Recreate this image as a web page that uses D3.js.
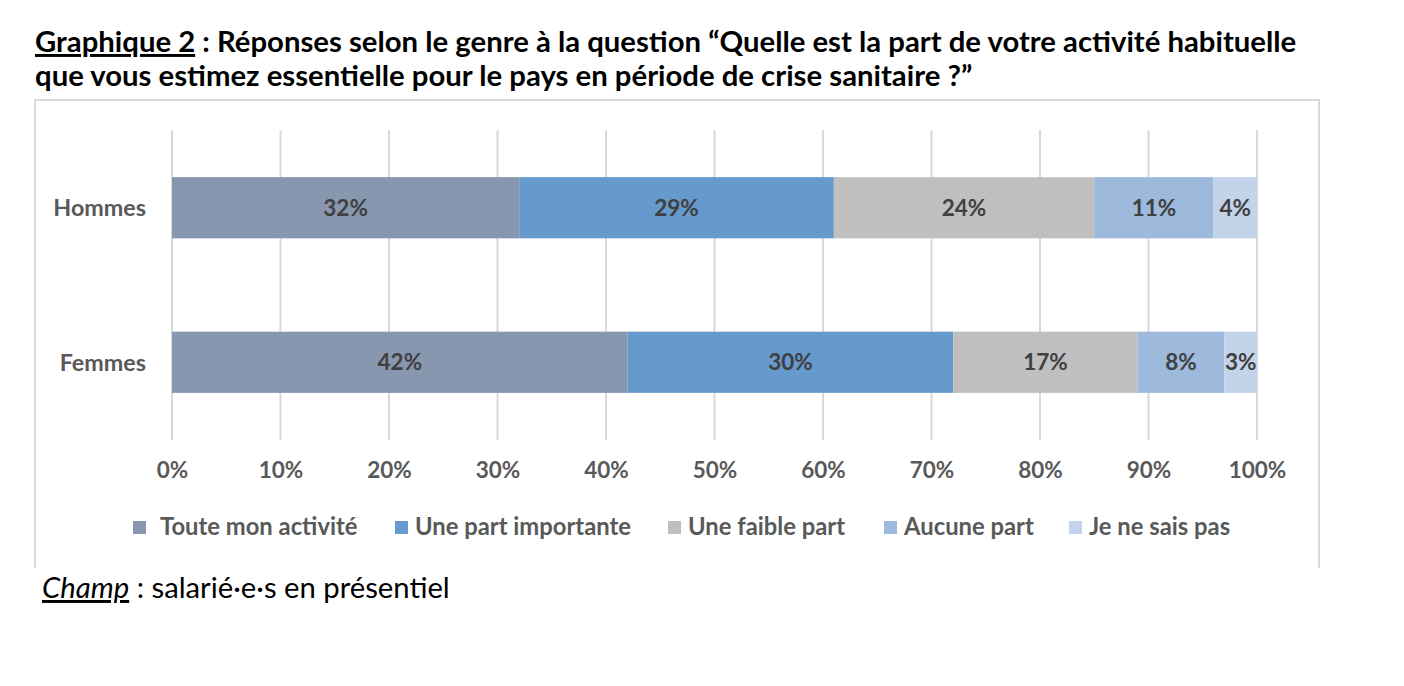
<!DOCTYPE html>
<html><head><meta charset="utf-8">
<script src="https://cdn.jsdelivr.net/npm/d3@7"></script>
<style>
html,body{margin:0;padding:0;background:#fff;}
svg{display:block;font-family:Lato,"Open Sans",sans-serif;}
</style></head>
<body>
<svg id="c" width="1404" height="686"></svg>
<script>
const categories = ["Hommes", "Femmes"];
const seriesNames = ["Toute mon activité", "Une part importante", "Une faible part", "Aucune part", "Je ne sais pas"];
const hommesValues = [32, 29, 24, 11, 4];
const femmesValues = [42, 30, 17, 8, 3];
const tickValues = [0, 10, 20, 30, 40, 50, 60, 70, 80, 90, 100];
const colors = ["#8797AF", "#6699CC", "#BFBFBF", "#9DB9DB", "#C3D3EA"];

const valuesByCat = {Hommes: hommesValues, Femmes: femmesValues};
const table = categories.map(c => {
  const o = {cat: c};
  seriesNames.forEach((s, i) => o[s] = valuesByCat[c][i]);
  return o;
});

const svg = d3.select("#c");

function fitWidth(sel, target) {
  const w = sel.node().getComputedTextLength();
  const fs = parseFloat(sel.attr("font-size"));
  sel.attr("font-size", fs * target / w);
}

// Title
const title = svg.append("text").attr("x", 35).attr("font-weight", 700).attr("font-size", 29.3).attr("fill", "#000");
const t1 = title.append("tspan").attr("x", 35).attr("y", 52);
t1.append("tspan").attr("text-decoration", "underline").text("Graphique 2");
t1.append("tspan").text(" : Réponses selon le genre à la question “Quelle est la part de votre activité habituelle");
title.append("tspan").attr("x", 35).attr("y", 86).text("que vous estimez essentielle pour le pays en période de crise sanitaire ?”");

// Frame (left, top, right)
svg.append("path")
  .attr("d", "M35,568 L35,100 L1319,100 L1319,568")
  .attr("fill", "none").attr("stroke", "#D9D9D9").attr("stroke-width", 2);

const x = d3.scaleLinear().domain([0, 100]).range([172, 1257]);
const y = d3.scaleBand().domain(categories).range([130, 440]).paddingInner(0.604).paddingOuter(0.305);

// Gridlines
svg.append("g").selectAll("line").data(tickValues).join("line")
  .attr("x1", d => x(d)).attr("x2", d => x(d))
  .attr("y1", 130).attr("y2", 440)
  .attr("stroke", "#D9D9D9").attr("stroke-width", 2);

// Axis
const axis = d3.axisBottom(x).tickValues(tickValues).tickFormat(d => d + "%").tickSize(0).tickPadding(0);
const ax = svg.append("g").attr("transform", "translate(0,462)").call(axis);
ax.select(".domain").remove();
ax.selectAll("text").attr("font-family", "Lato").attr("font-size", 22.5).attr("font-weight", 700).attr("fill", "#595959").attr("dy", "0.71em");

// Stack
const stack = d3.stack().keys(seriesNames)(table);
const layer = svg.append("g").selectAll("g").data(stack).join("g")
  .attr("fill", (d, i) => colors[i]);
layer.selectAll("rect").data(d => d).join("rect")
  .attr("x", d => x(d[0])).attr("width", d => x(d[1]) - x(d[0]))
  .attr("y", d => y(d.data.cat)).attr("height", y.bandwidth());

// Bar labels
const lbl = svg.append("g").selectAll("g").data(stack).join("g");
lbl.selectAll("text").data(d => d).join("text")
  .attr("x", d => (x(d[0]) + x(d[1])) / 2)
  .attr("y", d => y(d.data.cat) + y.bandwidth() / 2)
  .attr("dy", "0.36em")
  .attr("text-anchor", "middle")
  .attr("font-size", 22.5).attr("font-weight", 700).attr("fill", "#404040")
  .text(d => (d[1] - d[0]) + "%");

// Category labels
svg.append("g").selectAll("text").data(categories).join("text")
  .attr("x", 146).attr("y", d => y(d) + y.bandwidth() / 2).attr("dy", "0.36em")
  .attr("text-anchor", "end").attr("font-size", 23.3).attr("font-weight", 700).attr("fill", "#595959")
  .text(d => d);

// Legend
const legendSquareX = [133, 395, 668, 884, 1069];
const lg = svg.append("g").selectAll("g").data(seriesNames).join("g")
  .attr("transform", (d, i) => `translate(${legendSquareX[i]},0)`);
lg.append("rect").attr("x", 0).attr("y", 521).attr("width", 13).attr("height", 13).attr("fill", (d, i) => colors[i]);
lg.append("text").attr("x", (d, i) => i === 0 ? 27 : 20).attr("y", 535)
  .attr("font-size", 23.8).attr("font-weight", 700).attr("fill", "#595959").text(d => d);

// Footer
const ft = svg.append("text").attr("x", 42).attr("y", 598).attr("font-size", 24).attr("fill", "#000").attr("font-family", "Lato, sans-serif");
ft.append("tspan").attr("font-style", "italic").attr("text-decoration", "underline").text("Champ");
ft.append("tspan").text(" : salarié·e·s en présentiel");
fitWidth(ft, 408);
</script>
</body></html>
